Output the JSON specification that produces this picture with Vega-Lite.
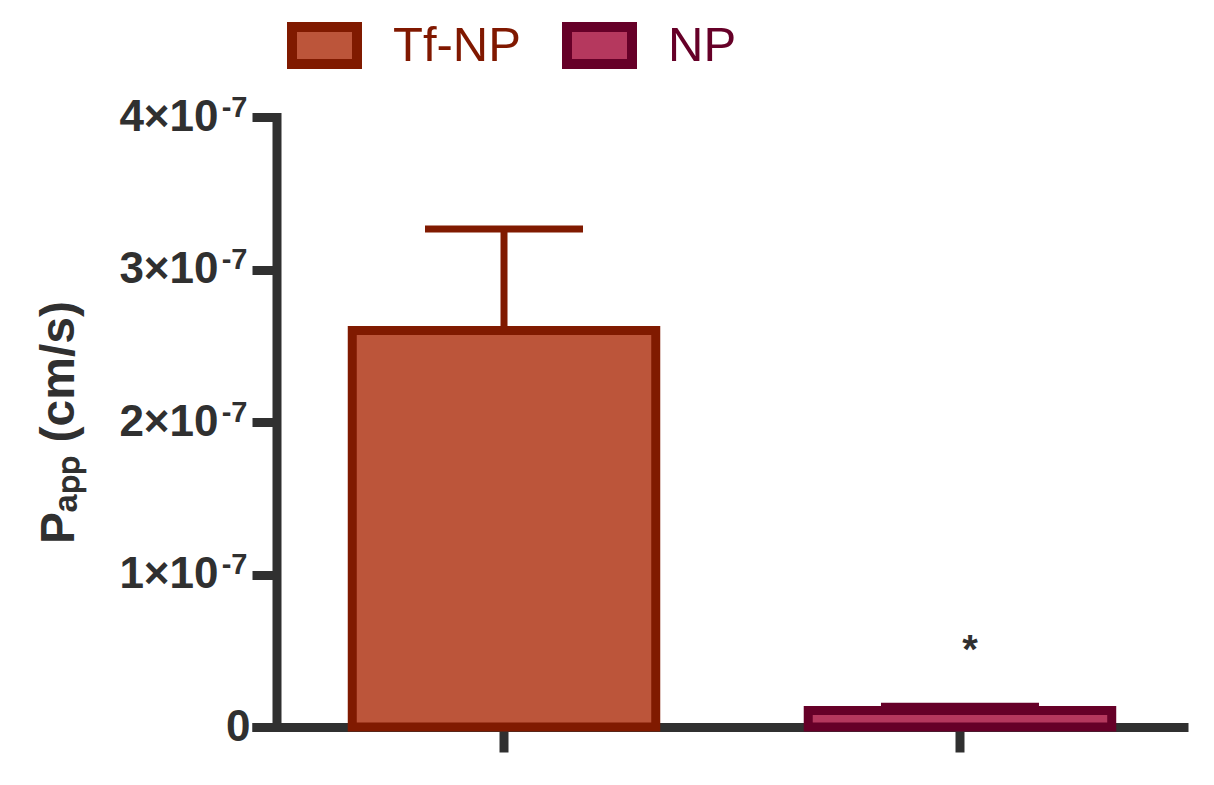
{
  "$schema": "https://vega.github.io/schema/vega-lite/v6.json",
  "width": 927,
  "height": 610,
  "autosize": {"type": "none"},
  "padding": {"left": 256.5, "top": 117, "right": 30.5, "bottom": 58},
  "background": "white",
  "config": {"view": {"stroke": null}, "font": "Liberation Sans", "axis": {"grid": false}},
  "data": {
    "values": [
      {"group": "Tf-NP", "mean": 2.6e-7, "upper": 3.266e-7},
      {"group": "NP", "mean": 1.08e-8, "upper": 1.36e-8}
    ]
  },
  "resolve": {"axis": {"y": "independent"}},
  "layer": [
    {
      "mark": {"type": "bar", "strokeWidth": 9, "opacity": 1, "strokeJoin": "miter"},
      "encoding": {
        "x": {
          "field": "group",
          "type": "nominal",
          "sort": ["Tf-NP", "NP"],
          "scale": {"domain": ["Tf-NP", "NP"], "paddingInner": 0.3344, "paddingOuter": 0.1837, "align": 0.5716},
          "axis": {
            "title": null,
            "labels": false,
            "domainWidth": 9,
            "domainColor": "#303030",
            "domainCap": "square",
            "tickSize": 25,
            "tickWidth": 9,
            "tickColor": "#303030"
          }
        },
        "y": {
          "field": "mean",
          "type": "quantitative",
          "scale": {"domain": [0, 4e-7], "nice": false, "zero": true},
          "axis": {
            "orient": "left",
            "values": [0, 1e-7, 2e-7, 3e-7, 4e-7],
            "offset": -20,
            "domainWidth": 9,
            "domainColor": "#303030",
            "domainCap": "square",
            "tickSize": 24.5,
            "tickWidth": 9,
            "tickColor": "#303030",
            "labelExpr": "datum.value == 0 ? '0' : format(round(datum.value*1e7),'d') + '×10'",
            "labelFont": "Liberation Sans",
            "labelFontSize": 44,
            "labelFontWeight": "bold",
            "labelColor": "#303030",
            "labelFlush": false,
            "labelOverlap": false,
            "labelPadding": {"condition": {"test": "datum.value == 0", "value": 2}, "value": 34},
            "title": "Pₐₚₚ (cm/s)",
            "titleFont": "Liberation Sans",
            "titleFontSize": 48,
            "titleFontWeight": "bold",
            "titleColor": "#303030",
            "titleAngle": -90,
            "titleX": -203,
            "titleY": 305,
            "titleAlign": "center",
            "titleBaseline": "alphabetic"
          }
        },
        "fill": {
          "field": "group",
          "type": "nominal",
          "scale": {"domain": ["Tf-NP", "NP"], "range": ["#BC553A", "#B5385E"]},
          "legend": {
            "title": null,
            "orient": "none",
            "legendX": 30.5,
            "legendY": -109,
            "direction": "horizontal",
            "symbolType": "M-1,-0.569L1,-0.569L1,0.569L-1,0.569Z",
            "symbolSize": 4225,
            "symbolStrokeWidth": 10,
            "labelFont": "Liberation Sans",
            "labelFontSize": 49,
            "labelOffset": 31,
            "columnPadding": 26,
            "padding": 0,
            "labelLimit": 400,
            "symbolOpacity": 1,
            "encode": {"labels": {"update": {"fill": {"signal": "datum.value == 'NP' ? '#660028' : '#801800'"}}}}
          }
        },
        "stroke": {
          "field": "group",
          "type": "nominal",
          "scale": {"domain": ["Tf-NP", "NP"], "range": ["#801A00", "#660028"]}
        }
      }
    },
    {
      "mark": {"type": "rule", "strokeWidth": 7, "opacity": 1},
      "encoding": {
        "x": {"field": "group", "type": "nominal", "sort": ["Tf-NP", "NP"]},
        "y": {"field": "mean", "type": "quantitative", "axis": null},
        "y2": {"field": "upper"},
        "color": {"field": "group", "type": "nominal", "scale": {"domain": ["Tf-NP", "NP"], "range": ["#801A00", "#660028"]}, "legend": null}
      }
    },
    {
      "mark": {"type": "tick", "thickness": 7, "size": 158, "opacity": 1},
      "encoding": {
        "x": {"field": "group", "type": "nominal", "sort": ["Tf-NP", "NP"]},
        "y": {
          "field": "upper",
          "type": "quantitative",
          "axis": {
            "orient": "left",
            "values": [1e-7, 2e-7, 3e-7, 4e-7],
            "offset": -20,
            "domain": false,
            "ticks": true,
            "tickSize": 24.5,
            "tickOpacity": 0,
            "labelExpr": "'-7'",
            "labelFont": "Liberation Sans",
            "labelFontSize": 29,
            "labelFontWeight": "bold",
            "labelColor": "#303030",
            "labelPadding": 5,
            "labelOffset": -10,
            "labelFlush": false,
            "labelOverlap": false,
            "title": null,
            "grid": false
          }
        },
        "color": {"field": "group", "type": "nominal", "scale": {"domain": ["Tf-NP", "NP"], "range": ["#801A00", "#660028"]}, "legend": null}
      }
    },
    {
      "transform": [{"filter": "datum.group == 'NP'"}],
      "mark": {"type": "text", "text": "*", "font": "Liberation Sans", "fontSize": 40, "fontWeight": "bold", "dx": 10, "dy": -43, "baseline": "alphabetic", "align": "center", "color": "#303030"},
      "encoding": {
        "x": {"field": "group", "type": "nominal", "sort": ["Tf-NP", "NP"]},
        "y": {"field": "upper", "type": "quantitative", "axis": null}
      }
    }
  ]
}
